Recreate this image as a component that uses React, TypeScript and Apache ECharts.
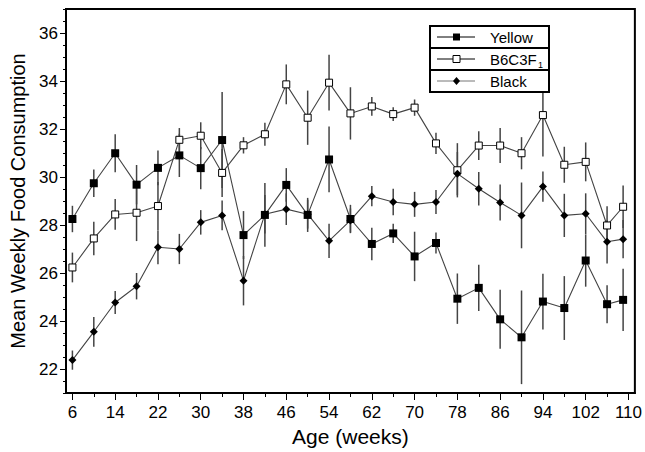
import React, { useEffect, useRef } from "react";
import * as echarts from "echarts";

const weeks = [6, 10, 14, 18, 22, 26, 30, 34, 38, 42, 46, 50, 54, 58, 62, 66, 70, 74, 78, 82, 86, 90, 94, 98, 102, 106, 109];

const yellow = [28.25, 29.74, 30.99, 29.68, 30.38, 30.9, 30.37, 31.54, 27.58, 28.42, 29.67, 28.42, 30.73, 28.25, 27.21, 27.65, 26.69, 27.25, 24.93, 25.38, 24.07, 23.32, 24.81, 24.54, 26.52, 24.7, 24.88];
const yellowErr = [0.55, 0.57, 0.79, 0.82, 0.72, 0.9, 0.88, 2.0, 1.0, 1.33, 0.7, 0.71, 1.37, 0.59, 0.68, 0.4, 1.03, 0.44, 1.05, 0.96, 1.23, 1.95, 1.16, 1.33, 1.09, 0.79, 1.3];

const b6c3f1 = [26.23, 27.44, 28.44, 28.51, 28.79, 31.55, 31.72, 30.17, 31.32, 31.78, 33.86, 32.47, 33.93, 32.65, 32.94, 32.62, 32.89, 31.4, 30.28, 31.31, 31.31, 30.99, 32.58, 30.51, 30.63, 27.98, 28.76];
const b6c3f1Err = [0.62, 0.7, 0.64, 1.18, 1.0, 0.49, 0.56, 1.0, 0.34, 0.48, 0.83, 1.13, 1.16, 1.09, 0.39, 0.29, 0.34, 0.44, 1.13, 0.6, 0.73, 0.67, 1.73, 0.75, 0.81, 0.8, 0.89];

const black = [22.37, 23.55, 24.77, 25.45, 27.07, 27.0, 28.11, 28.4, 25.68, 28.45, 28.66, 28.45, 27.34, 28.19, 29.2, 28.96, 28.86, 28.96, 30.14, 29.51, 28.94, 28.4, 29.6, 28.4, 28.47, 27.3, 27.41];
const blackErr = [0.4, 0.62, 0.48, 0.55, 0.71, 0.63, 0.51, 0.62, 1.03, 0.8, 0.66, 0.6, 0.71, 0.5, 0.42, 0.55, 0.52, 0.5, 0.9, 0.7, 0.75, 1.37, 0.63, 0.9, 0.85, 0.9, 0.8];

const xMinorTicks = [6, 10, 14, 18, 22, 26, 30, 34, 38, 42, 46, 50, 54, 58, 62, 66, 70, 74, 78, 82, 86, 90, 94, 98, 102, 106, 110];
const xLabels = [6, 14, 22, 30, 38, 46, 54, 62, 70, 78, 86, 94, 102, 110];
const yLabels = [22, 24, 26, 28, 30, 32, 34, 36];

const FONT = "'Liberation Sans', Arial, Helvetica, sans-serif";
const X_MIN = 4.8;
const X_MAX = 111.2;
const Y_MIN = 21;
const Y_MAX = 37;

function errorSeries(name: string, vals: number[], errs: number[]) {
  return {
    name: name + " err",
    type: "custom",
    xAxisIndex: 0,
    yAxisIndex: 0,
    z: 1,
    silent: true,
    data: weeks.map((w, i) => [w, vals[i] - errs[i], vals[i] + errs[i]]),
    encode: { x: 0, y: [1, 2] },
    renderItem: (params: any, api: any) => {
      const p1 = api.coord([api.value(0), api.value(1)]);
      const p2 = api.coord([api.value(0), api.value(2)]);
      return {
        type: "line",
        shape: { x1: p1[0], y1: p1[1], x2: p2[0], y2: p2[1] },
        style: { stroke: "#444", lineWidth: 1.5 },
      };
    },
  };
}

function lineSeries(name: string, vals: number[], symbol: string, size: number, fill: string) {
  return {
    name,
    type: "line",
    xAxisIndex: 0,
    yAxisIndex: 0,
    z: 3,
    data: weeks.map((w, i) => [w, vals[i]]),
    symbol,
    symbolSize: size,
    showAllSymbol: true,
    lineStyle: { color: "#444", width: 1.1 },
    itemStyle: { color: fill, borderColor: "#000", borderWidth: fill === "#fff" ? 1 : 0 },
  };
}

export default function App() {
  const ref = useRef<HTMLDivElement>(null);
  useEffect(() => {
    if (!ref.current) return;
    const chart = echarts.init(ref.current, null, { renderer: "svg" });
    const lx = 430;
    const ly = 26;
    const lw = 119;
    const rowH = 22;
    const rows = [ly + 11, ly + 11 + rowH, ly + 11 + 2 * rowH];
    const legendGraphic: any[] = [
      { type: "rect", shape: { x: lx, y: ly, width: lw, height: rowH * 3 }, style: { fill: "#fff", stroke: "#000", lineWidth: 2 }, z: 100 },
      { type: "line", shape: { x1: lx, y1: ly + rowH, x2: lx + lw, y2: ly + rowH }, style: { stroke: "#000", lineWidth: 2 }, z: 101 },
      { type: "line", shape: { x1: lx, y1: ly + 2 * rowH, x2: lx + lw, y2: ly + 2 * rowH }, style: { stroke: "#000", lineWidth: 2 }, z: 101 },
      { type: "line", shape: { x1: lx + 7, y1: rows[0], x2: lx + 45, y2: rows[0] }, style: { stroke: "#000", lineWidth: 1 }, z: 101 },
      { type: "rect", shape: { x: lx + 23, y: rows[0] - 3.5, width: 7, height: 7 }, style: { fill: "#000" }, z: 102 },
      { type: "line", shape: { x1: lx + 7, y1: rows[1], x2: lx + 45, y2: rows[1] }, style: { stroke: "#000", lineWidth: 1 }, z: 101 },
      { type: "rect", shape: { x: lx + 23, y: rows[1] - 3.5, width: 7, height: 7 }, style: { fill: "#fff", stroke: "#000", lineWidth: 1 }, z: 102 },
      { type: "line", shape: { x1: lx + 7, y1: rows[2], x2: lx + 45, y2: rows[2] }, style: { stroke: "#777", lineWidth: 1 }, z: 101 },
      { type: "polygon", shape: { points: [[lx + 26.5, rows[2] - 4], [lx + 30, rows[2]], [lx + 26.5, rows[2] + 4], [lx + 23, rows[2]]] }, style: { fill: "#000" }, z: 102 },
      { type: "text", x: lx + 60, y: rows[0], style: { text: "Yellow", fill: "#000", font: `15px ${FONT}`, textVerticalAlign: "middle" }, z: 102 },
      { type: "text", x: lx + 60, y: rows[1], style: { text: "B6C3F", fill: "#000", font: `15px ${FONT}`, textVerticalAlign: "middle" }, z: 102 },
      { type: "text", x: lx + 108, y: rows[1] + 6, style: { text: "1", fill: "#000", font: `9px ${FONT}`, textVerticalAlign: "middle" }, z: 102 },
      { type: "text", x: lx + 60, y: rows[2], style: { text: "Black", fill: "#000", font: `15px ${FONT}`, textVerticalAlign: "middle" }, z: 102 },
    ];

    const option: any = {
      animation: false,
      backgroundColor: "#fff",
      textStyle: { fontFamily: FONT },
      grid: { left: 65, right: 5, top: 9, bottom: 50, show: true, borderColor: "#000", borderWidth: 2, backgroundColor: "transparent" },
      xAxis: [
        {
          type: "value", min: X_MIN, max: X_MAX, position: "bottom",
          axisLine: { show: true, onZero: false, lineStyle: { color: "#000", width: 2 } },
          axisTick: { show: true, customValues: xMinorTicks, length: 4, lineStyle: { color: "#000", width: 1 } },
          axisLabel: { show: false },
          splitLine: { show: false },
        },
        {
          type: "value", min: X_MIN, max: X_MAX, position: "bottom",
          axisLine: { show: false, onZero: false },
          axisTick: { show: true, customValues: xLabels, length: 7, lineStyle: { color: "#000", width: 1 } },
          axisLabel: { show: true, customValues: xLabels, fontSize: 17, color: "#000", fontFamily: FONT, margin: 11 },
          splitLine: { show: false },
          name: "Age (weeks)", nameLocation: "middle", nameGap: 33,
          nameTextStyle: { fontSize: 21, color: "#000", fontFamily: FONT },
        },
      ],
      yAxis: [
        {
          type: "value", min: Y_MIN, max: Y_MAX, interval: 0.5, position: "left",
          axisLine: { show: true, onZero: false, lineStyle: { color: "#000", width: 2 } },
          axisTick: { show: true, length: 3, lineStyle: { color: "#000", width: 1 } },
          axisLabel: { show: false },
          splitLine: { show: false },
        },
        {
          type: "value", min: Y_MIN, max: Y_MAX, position: "left",
          axisLine: { show: false, onZero: false },
          axisTick: { show: true, customValues: yLabels, length: 6, lineStyle: { color: "#000", width: 1 } },
          axisLabel: { show: true, customValues: yLabels, fontSize: 17, color: "#000", fontFamily: FONT, margin: 8 },
          splitLine: { show: false },
          name: "Mean Weekly Food Consumption", nameLocation: "middle", nameGap: 38,
          nameTextStyle: { fontSize: 20, color: "#000", fontFamily: FONT },
        },
      ],
      series: [
        errorSeries("Yellow", yellow, yellowErr),
        errorSeries("B6C3F1", b6c3f1, b6c3f1Err),
        errorSeries("Black", black, blackErr),
        lineSeries("Yellow", yellow, "rect", 8, "#000"),
        lineSeries("B6C3F1", b6c3f1, "rect", 7, "#fff"),
        lineSeries("Black", black, "diamond", 8, "#000"),
      ],
      graphic: legendGraphic,
    };
    chart.setOption(option);
    return () => chart.dispose();
  }, []);
  return <div ref={ref} style={{ position: "fixed", left: 0, top: 0, width: 645, height: 452 }} />;
}
